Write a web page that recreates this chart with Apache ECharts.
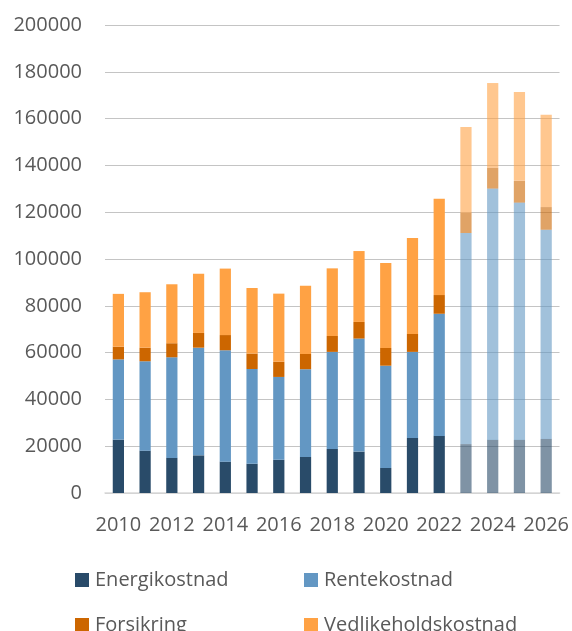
<!DOCTYPE html>
<html>
<head>
<meta charset="utf-8">
<script src="https://cdn.jsdelivr.net/npm/echarts@6/dist/echarts.min.js"></script>
<style>
  html, body { margin: 0; padding: 0; background: #fff; }
  #chart { width: 572px; height: 631px; }
</style>
</head>
<body>
<div id="chart"></div>
<script>
const years = ['2010', '2011', '2012', '2013', '2014', '2015', '2016', '2017', '2018',
  '2019', '2020', '2021', '2022', '2023', '2024', '2025', '2026']

// values per cost component (stacked)
const energikostnad = [22800, 18100, 15000, 16100, 13400, 12500, 14200, 15400, 18800,
  17700, 10700, 23500, 24400, 20900, 22700, 22700, 23100]
const rentekostnad = [34300, 38200, 43000, 46000, 47600, 40500, 35400, 37500, 41500,
  48300, 43700, 36800, 52200, 90200, 107400, 101400, 89400]
const forsikring = [5400, 5800, 6000, 6300, 6500, 6600, 6500, 6500, 6800,
  7100, 7600, 7700, 8000, 8600, 8900, 9300, 9700]
const vedlikehold = [22600, 23700, 25200, 25300, 28400, 28000, 29100, 29200, 28900,
  30300, 36300, 41000, 41100, 36700, 36200, 38000, 39400]

const FORECAST_FROM = 13 // 2023 onwards drawn faded
const FONT = 'Open Sans'
const TEXT = '#595959'

const chart = echarts.init(document.getElementById('chart'))

function makeSeries(name, values, color) {
  return {
    name,
    type: 'bar',
    stack: 'total',
    barWidth: '42%',
    itemStyle: { color },
    data: values.map((v, i) => (i >= FORECAST_FROM ? { value: v, itemStyle: { opacity: 0.6 } } : v))
  }
}

// one legend per entry so the two columns line up like the original
function legendItem(name, left, top) {
  return {
    data: [name],
    left, top,
    itemWidth: 14, itemHeight: 14,
    icon: 'rect',
    textStyle: { fontFamily: FONT, fontSize: 20, color: TEXT, padding: [0, 0, 0, 1] }
  }
}

chart.setOption({
  animation: false,
  grid: { left: 105, right: 11, top: 25, bottom: 138 },
  legend: [
    legendItem('Energikostnad', 70, 565),
    legendItem('Rentekostnad', 299, 565),
    legendItem('Forsikring', 70, 610),
    legendItem('Vedlikeholdskostnad', 299, 610)
  ],
  xAxis: {
    type: 'category',
    data: years,
    axisLine: { lineStyle: { color: '#d9d9d9', width: 1.5 } },
    axisTick: { show: false },
    axisLabel: { interval: 1, fontFamily: FONT, fontSize: 20, color: TEXT, margin: 22 }
  },
  yAxis: {
    type: 'value',
    min: 0,
    max: 200000,
    interval: 20000,
    axisLine: { show: false },
    axisTick: { show: false },
    axisLabel: { fontFamily: FONT, fontSize: 20, color: TEXT, margin: 23, formatter: (v) => String(v) },
    splitLine: { lineStyle: { color: '#c4c4c4', width: 1 } }
  },
  series: [
    makeSeries('Energikostnad', energikostnad, '#294b69'),
    makeSeries('Rentekostnad', rentekostnad, '#6397c3'),
    makeSeries('Forsikring', forsikring, '#cc6600'),
    makeSeries('Vedlikeholdskostnad', vedlikehold, '#ffa244')
  ]
})
</script>
</body>
</html>
